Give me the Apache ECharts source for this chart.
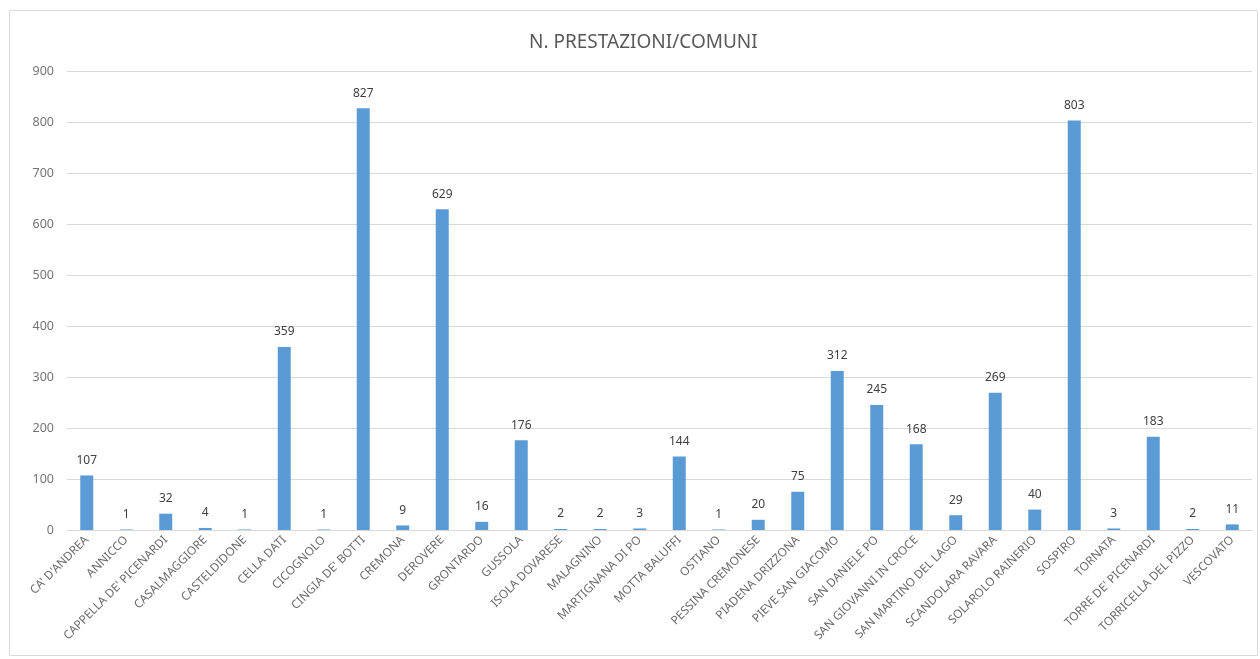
<!DOCTYPE html>
<html><head><meta charset="utf-8">
<script src="https://cdn.jsdelivr.net/npm/echarts@6/dist/echarts.min.js"></script>
<style>html,body{margin:0;padding:0;background:#fff}#c{width:1260px;height:659px}</style>
</head><body><div id="c"></div>
<script>
const titleText = "N. PRESTAZIONI/COMUNI";
const categories = ["CA' D'ANDREA","ANNICCO","CAPPELLA DE' PICENARDI","CASALMAGGIORE","CASTELDIDONE","CELLA DATI","CICOGNOLO","CINGIA DE' BOTTI","CREMONA","DEROVERE","GRONTARDO","GUSSOLA","ISOLA DOVARESE","MALAGNINO","MARTIGNANA DI PO","MOTTA BALUFFI","OSTIANO","PESSINA CREMONESE","PIADENA DRIZZONA","PIEVE SAN GIACOMO","SAN DANIELE PO","SAN GIOVANNI IN CROCE","SAN MARTINO DEL LAGO","SCANDOLARA RAVARA","SOLAROLO RAINERIO","SOSPIRO","TORNATA","TORRE DE' PICENARDI","TORRICELLA DEL PIZZO","VESCOVATO"];
const values = [107,1,32,4,1,359,1,827,9,629,16,176,2,2,3,144,1,20,75,312,245,168,29,269,40,803,3,183,2,11];
const yTicks = [0,100,200,300,400,500,600,700,800,900];

const font = "Noto Sans, Open Sans, sans-serif";
const chart = echarts.init(document.getElementById('c'));
chart.setOption({
  animation:false,
  backgroundColor:'#fff',
  graphic:[{type:'rect',shape:{x:9.5,y:10.5,width:1248,height:645},style:{fill:'none',stroke:'#d9d9d9',lineWidth:1},silent:true}],
  title:{text:titleText,left:524,top:28,textStyle:{fontFamily:font,fontSize:19,fontWeight:'normal',color:'#595959'}},
  grid:{left:67,right:8,top:71,bottom:129,containLabel:false},
  xAxis:{type:'category',data:categories,
    axisLine:{lineStyle:{color:'#d9d9d9'}},axisTick:{show:false},
    axisLabel:{rotate:45,interval:0,fontFamily:font,fontSize:11.8,color:'#6a6a6a',margin:8}},
  yAxis:{type:'value',min:yTicks[0],max:yTicks[yTicks.length-1],interval:100,
    axisLine:{show:false},axisTick:{show:false},
    splitLine:{lineStyle:{color:'#d9d9d9'}},
    axisLabel:{fontFamily:font,fontSize:12.5,color:'#747474',margin:13}},
  series:[{type:'bar',data:values,barWidth:13,itemStyle:{color:'#5b9bd5'},
    label:{show:true,position:'top',distance:9,fontFamily:font,fontSize:12,color:'#404040'}}]
});
</script></body></html>
